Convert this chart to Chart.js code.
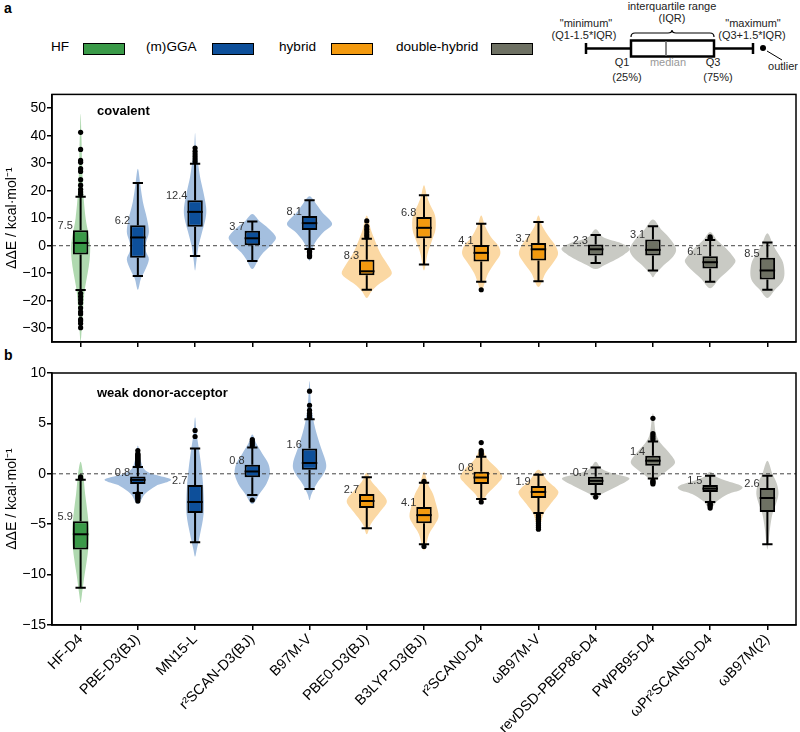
<!DOCTYPE html>
<html>
<head>
<meta charset="utf-8">
<script src="https://cdn.jsdelivr.net/npm/chart.js@4.4.1/dist/chart.umd.min.js"></script>
<style>
  body { margin: 0; width: 800px; height: 732px; position: relative; background: #fff; font-family: 'Liberation Sans', Arial, sans-serif; color: #000; overflow: hidden; }
  .plab { position: absolute; font-weight: bold; font-size: 14px; }
  .lt { position: absolute; font-size: 13.6px; line-height: 15px; top: 39px; }
  .sw { position: absolute; top: 43px; width: 40px; height: 10px; border: 1.5px solid #000; }
  #boxkey { position: absolute; left: 520px; top: 0; }
  .cw { position: absolute; left: 0; width: 800px; }
</style>
</head>
<body>
<div class="plab" style="left:4px;top:0px">a</div>
<div class="plab" style="left:4px;top:347px">b</div>

<div class="lt" style="left:51px">HF</div>
<div class="sw" style="left:83px;background:#3a9a48"></div>
<div class="lt" style="left:146px">(m)GGA</div>
<div class="sw" style="left:212px;background:#0d4f9a"></div>
<div class="lt" style="left:279px">hybrid</div>
<div class="sw" style="left:331px;background:#f39a0f"></div>
<div class="lt" style="left:396px">double-hybrid</div>
<div class="sw" style="left:491px;background:#6e7163"></div>

<svg id="boxkey" width="280" height="88" font-family="Liberation Sans, Arial, sans-serif" font-size="11" fill="#222">
  <text x="152" y="10" text-anchor="middle">interquartile range</text>
  <text x="152" y="22" text-anchor="middle">(IQR)</text>
  <text x="66" y="27" text-anchor="middle">"minimum"</text>
  <text x="64" y="39" text-anchor="middle">(Q1-1.5*IQR)</text>
  <text x="233" y="27" text-anchor="middle">"maximum"</text>
  <text x="232" y="39" text-anchor="middle">(Q3+1.5*IQR)</text>
  <path d="M111 37 Q111 33 115 33 L148 33 Q152 33 152 30 Q152 33 156 33 L190 33 Q194 33 194 37" fill="none" stroke="#000" stroke-width="1.2"/>
  <line x1="66" y1="48.5" x2="111" y2="48.5" stroke="#000" stroke-width="2.5"/>
  <line x1="194" y1="48.5" x2="233" y2="48.5" stroke="#000" stroke-width="2.5"/>
  <line x1="66" y1="43" x2="66" y2="54" stroke="#000" stroke-width="2.5"/>
  <line x1="233" y1="43" x2="233" y2="54" stroke="#000" stroke-width="2.5"/>
  <rect x="111" y="40.5" width="83" height="16" fill="#fff" stroke="#000" stroke-width="2.5"/>
  <line x1="146" y1="41.5" x2="146" y2="55.5" stroke="#888" stroke-width="2"/>
  <circle cx="243" cy="48" r="3" fill="#000"/>
  <line x1="247" y1="51" x2="262" y2="60" stroke="#000" stroke-width="1"/>
  <text x="102" y="66" text-anchor="middle">Q1</text>
  <text x="107" y="81" text-anchor="middle">(25%)</text>
  <text x="148" y="66" text-anchor="middle" fill="#999">median</text>
  <text x="193" y="66" text-anchor="middle">Q3</text>
  <text x="198" y="81" text-anchor="middle">(75%)</text>
  <text x="278" y="70" text-anchor="end">outlier</text>
</svg>

<div class="cw" style="top:85px;height:270px"><canvas id="chartA"></canvas></div>
<div class="cw" style="top:360px;height:372px"><canvas id="chartB"></canvas></div>

<script>
// ---- categories ----
const methods = ['HF-D4','PBE-D3(BJ)','MN15-L','r²SCAN-D3(BJ)','B97M-V','PBE0-D3(BJ)','B3LYP-D3(BJ)','r²SCAN0-D4','ωB97M-V','revDSD-PBEP86-D4','PWPB95-D4','ωPr²SCAN50-D4','ωB97M(2)'];
const groups  = ['HF','GGA','GGA','GGA','GGA','hyb','hyb','hyb','hyb','DH','DH','DH','DH'];
const darkCol  = { HF: '#3a9a48', GGA: '#0d4f9a', hyb: '#f39a0f', DH: '#6e7163' };
const lightCol = { HF: '#b0d9b0', GGA: '#a4bfdf', hyb: '#fbd8a3', DH: '#c9cac4' };

// ---- panel a: covalent ----
const yTicksA = [-30,-20,-10,0,10,20,30,40,50];
const loA  = [-16.1,-11.0,-3.7,-5.6,-1.2,-16.0,-6.8,-13.1,-12.9,-6.3,-9.0,-13.1,-16.0];
const q1A  = [-3.2,-4.4,6.9,0.2,5.7,-10.7,2.7,-5.7,-5.4,-3.6,-3.6,-8.3,-12.3];
const medA = [1.0,3.0,12.3,2.7,8.2,-9.3,6.5,-2.6,-1.3,-1.3,-1.5,-6.0,-9.0];
const q3A  = [5.6,7.4,16.5,5.4,10.8,-5.1,10.4,0.3,1.0,0.4,2.3,-3.8,-4.4];
const hiA  = [17.8,22.8,29.8,8.8,16.5,2.5,18.3,8.0,8.6,3.9,7.1,2.1,1.2];
const madA = [7.5,6.2,12.4,3.7,8.1,8.3,6.8,4.1,3.7,2.3,3.1,6.1,8.5];
const outA = [
  [18.7,19.5,20.5,22,24,27,28,30.3,31,35,41.2,-17.3,-18.5,-19.6,-20.8,-22.6,-24,-24.8,-26.8,-27.4,-28.3,-29.8],
  [], [30.6,31.5,32.4,33.3,34.3,35.5], [], [-2,-2.5,-3,-3.5,-4],
  [3.2,4,5,6,7,9], [], [-16], [], [], [], [2.6,3.2], []
];
// violin density: [value, half width in 1/57 of a category]
const violinA = [
  [[48,0],[40,0.8],[30,1.5],[20,2.5],[10,5],[4,8],[0,9.5],[-5,9],[-10,7],[-15,4.5],[-20,3],[-28,1.5],[-35,0]],
  [[28,0],[22,2.5],[16,5],[10,9],[5,11],[1,8],[-2,8],[-5,11],[-9,7],[-12,3],[-16,0]],
  [[41,0],[35,1],[30,3],[25,5],[20,8],[14,11],[10,10.5],[5,7],[0,3.5],[-5,1.5],[-9,0]],
  [[11.5,0],[9,7],[7,14],[4.5,21],[2.5,23.5],[0,18],[-2.5,11],[-5,6],[-8.5,0]],
  [[18,0],[15,7],[12,13],[8,22.5],[5,14],[2,7],[-1,3],[-5.5,0]],
  [[11,0],[6,4],[2,8],[-3,14],[-7,21],[-10,25],[-12,20],[-14,12],[-16.5,5],[-19,0]],
  [[22,0],[18,3],[15,6],[11,11],[6,11.5],[2,8],[-3,3.5],[-9,0]],
  [[11,0],[7,4],[3,10],[0,17],[-3,19],[-6,14],[-10,7],[-14,3],[-17,0]],
  [[11,0],[7,4],[3,11],[0,17],[-3,19.5],[-6,15],[-10,7],[-15,0]],
  [[6,0],[3,8],[1,25],[-1,34],[-3,29],[-5,20],[-7,9],[-8.5,0]],
  [[9.5,0],[6,8],[3,16],[-1,23],[-4,20],[-7,11],[-10,3],[-11.5,0]],
  [[5,0],[2,7],[-1,16],[-4,23],[-6,25],[-9,18],[-12,9],[-15.5,0]],
  [[4.5,0],[0,6],[-3,11],[-6,15.5],[-10,17],[-13,15],[-16,7.5],[-19,0]]
];

// ---- panel b: weak donor-acceptor ----
const yTicksB = [-15,-10,-5,0,5,10];
const loB  = [-11.3,-1.9,-6.8,-2.1,-1.5,-5.4,-7.0,-2.5,-3.9,-2.0,-0.47,-2.8,-7.0];
const q1B  = [-7.5,-1.0,-3.9,-0.33,0.4,-3.4,-4.9,-1.0,-2.4,-1.1,0.8,-1.8,-3.8];
const medB = [-6.0,-0.6,-2.8,0.23,1.07,-2.7,-4.1,-0.37,-1.8,-0.7,1.3,-1.47,-2.4];
const q3B  = [-4.7,-0.27,-1.1,0.9,2.5,-2.0,-3.3,0.2,-1.2,-0.3,1.8,-1.1,-1.4];
const hiB  = [-0.6,0.67,2.5,2.6,5.4,-0.33,-0.9,1.7,-0.1,0.63,3.2,-0.2,-0.2];
const madB = [5.9,0.8,2.7,0.8,1.6,2.7,4.1,0.8,1.9,0.7,1.4,1.5,2.6];
const outB = [
  [-0.3,-0.45],
  [0.8,0.9,1.0,1.1,1.2,1.3,1.4,1.5,1.6,1.7,1.8,1.9,2.0,2.3,-2.0,-2.1,-2.2,-2.3,-2.4,-2.5,-2.7],
  [3.7,4.3], [2.8,3.0,3.2,3.4,-2.6], [5.6,5.8,6.0,6.3,6.8,8.2], [],
  [-0.75,-7.2], [1.9,2.1,2.3,3.1,-2.8], [-4.1,-4.3,-4.5,-4.7,-4.9,-5.1,-5.3,-5.5], [-2.3],
  [3.4,3.6,3.8,4.0,5.5,-0.7,-0.8,-0.9,-1.0], [-2.9,-3.0,-3.1,-3.2,-3.4], []
];
const violinB = [
  [[1.2,0],[0,2.5],[-2,4.5],[-4,7],[-6,8.5],[-8,7],[-10,4],[-12,1.3],[-12.8,0]],
  [[2.8,0],[1.5,2.5],[0.5,6],[0,14],[-0.5,32],[-0.8,30],[-1.2,18],[-2,7],[-3,0]],
  [[5.6,0],[4,1.5],[2,4.5],[0,7],[-2,8.5],[-4,8.5],[-6,5],[-7.5,1.7],[-8.2,0]],
  [[3.9,0],[3,4],[2,10],[1,16],[0,17.5],[-1,14],[-2,7],[-3,0]],
  [[9.2,0],[7,1.5],[5,4.5],[3,10],[1,16.5],[0,14],[-1,7],[-2,2],[-2.6,0]],
  [[0.1,0],[-0.8,5],[-1.6,12],[-2.7,20],[-3.8,13],[-5,4],[-6,0]],
  [[0.2,0],[-1,4],[-2,9],[-3,12],[-4.2,14.5],[-5,11],[-6,5],[-7.6,0]],
  [[2.6,0],[1.5,6],[0.5,16],[-0.3,21],[-1,16],[-2,6],[-2.9,0]],
  [[0.4,0],[-0.7,9],[-1.5,18],[-2,19.5],[-3,12],[-4,5],[-5.5,0]],
  [[1.2,0],[0.5,6],[0,18],[-0.4,33],[-0.8,30],[-1.2,22],[-1.6,14],[-2,6],[-2.6,0]],
  [[6,0],[4,3],[3,8],[2,17],[1.1,22],[0.3,14],[-0.5,4],[-1.2,0]],
  [[0.2,0],[-0.3,6],[-0.7,16],[-1.2,31],[-1.6,30],[-2,18],[-2.7,7],[-3.5,0]],
  [[1.3,0],[0,5],[-1,9.5],[-2,11],[-3,8.5],[-4,5],[-5.5,2.5],[-7.5,0]]
];

Chart.defaults.font.family = "'Liberation Sans', Arial, sans-serif";
Chart.defaults.color = '#000';

// closed smooth curve through points (catmull-rom)
function smoothPath(ctx, pts) {
  const n = pts.length;
  ctx.moveTo(pts[0][0], pts[0][1]);
  for (let i = 0; i < n; i++) {
    const p0 = pts[(i - 1 + n) % n], p1 = pts[i], p2 = pts[(i + 1) % n], p3 = pts[(i + 2) % n];
    ctx.bezierCurveTo(p1[0] + (p2[0] - p0[0]) / 6, p1[1] + (p2[1] - p0[1]) / 6,
                      p2[0] - (p3[0] - p1[0]) / 6, p2[1] - (p3[1] - p1[1]) / 6, p2[0], p2[1]);
  }
  ctx.closePath();
}

function violinPlugin(p) {
  return {
    id: 'violinBox',
    beforeDatasetsDraw(chart) {
      const { ctx, chartArea: a, scales: { x, y } } = chart;
      const cat = x.getPixelForValue(1) - x.getPixelForValue(0);
      ctx.save();
      ctx.beginPath(); ctx.rect(a.left, a.top, a.width, a.height); ctx.clip();
      // violins
      p.violin.forEach((dens, i) => {
        const cx = x.getPixelForValue(i);
        const right = dens.map(d => [cx + d[1] / 57 * cat, y.getPixelForValue(d[0])]);
        const left = dens.slice(1, -1).reverse().map(d => [cx - d[1] / 57 * cat, y.getPixelForValue(d[0])]);
        ctx.beginPath();
        smoothPath(ctx, right.concat(left));
        ctx.fillStyle = lightCol[groups[i]];
        ctx.fill();
      });
      // zero line
      const y0 = y.getPixelForValue(0);
      ctx.beginPath();
      ctx.setLineDash([4, 3]);
      ctx.strokeStyle = '#444'; ctx.lineWidth = 1;
      ctx.moveTo(a.left, y0); ctx.lineTo(a.right, y0); ctx.stroke();
      ctx.setLineDash([]);
      // whiskers
      ctx.strokeStyle = '#000'; ctx.lineWidth = 2;
      const cap = 0.09 * cat;
      methods.forEach((m, i) => {
        const cx = x.getPixelForValue(i);
        const yl = y.getPixelForValue(p.lo[i]), yh = y.getPixelForValue(p.hi[i]);
        ctx.beginPath();
        ctx.moveTo(cx, yl); ctx.lineTo(cx, y.getPixelForValue(p.q1[i]));
        ctx.moveTo(cx, yh); ctx.lineTo(cx, y.getPixelForValue(p.q3[i]));
        ctx.moveTo(cx - cap, yl); ctx.lineTo(cx + cap, yl);
        ctx.moveTo(cx - cap, yh); ctx.lineTo(cx + cap, yh);
        ctx.stroke();
      });
      ctx.restore();
    },
    afterDatasetsDraw(chart) {
      const { ctx, chartArea: a, scales: { x, y } } = chart;
      const bars = chart.getDatasetMeta(0).data;
      ctx.save();
      ctx.strokeStyle = '#000'; ctx.lineWidth = 2;
      ctx.font = "11px 'Liberation Sans', Arial, sans-serif";
      ctx.fillStyle = '#333';
      ctx.textAlign = 'right'; ctx.textBaseline = 'alphabetic';
      bars.forEach((b, i) => {
        const hw = b.width / 2;
        const ym = y.getPixelForValue(p.med[i]);
        ctx.beginPath(); ctx.moveTo(b.x - hw, ym); ctx.lineTo(b.x + hw, ym); ctx.stroke();
        ctx.fillText(p.mad[i].toFixed(1), b.x - hw, y.getPixelForValue(p.q3[i]) - 1);
      });
      // panel title
      ctx.font = "bold 13px 'Liberation Sans', Arial, sans-serif";
      ctx.fillStyle = '#000'; ctx.textAlign = 'left'; ctx.textBaseline = 'middle';
      ctx.fillText(p.title, a.left + 45, a.top + p.titleDy);
      // frame
      ctx.lineWidth = 1.5;
      ctx.strokeRect(a.left, a.top, a.width, a.height);
      ctx.restore();
    }
  };
}

function makeChart(id, p) {
  const boxes = methods.map((_, i) => [p.q1[i], p.q3[i]]);
  const outliers = [];
  p.out.forEach((vals, i) => vals.forEach(v => outliers.push({ x: methods[i], y: v })));
  return new Chart(document.getElementById(id), {
    type: 'bar',
    data: {
      labels: methods,
      datasets: [
        { type: 'bar', data: boxes, backgroundColor: groups.map(g => darkCol[g]), borderColor: '#000', borderWidth: 2,
          borderSkipped: false, barPercentage: 0.27, categoryPercentage: 1, order: 2 },
        { type: 'scatter', data: outliers, pointRadius: 2.6, pointBackgroundColor: '#000', pointBorderWidth: 0, order: 1 }
      ]
    },
    options: {
      responsive: true, maintainAspectRatio: false, animation: false,
      layout: { padding: { top: p.padTop, right: 3, left: 0, bottom: 0 } },
      plugins: { legend: { display: false }, tooltip: { enabled: false } },
      scales: {
        x: {
          type: 'category', offset: true,
          grid: { display: true, drawOnChartArea: false, drawTicks: true, tickLength: 5, offset: false, color: '#000', lineWidth: 1.5 },
          border: { display: true, color: '#000', width: 1.5 },
          ticks: { display: p.showLabels, autoSkip: false, minRotation: 45, maxRotation: 45, padding: 1, font: { size: 14.4 }, color: '#000' },
          afterFit: s => { s.height = p.xHeight; }
        },
        y: {
          min: p.min, max: p.max,
          afterBuildTicks: s => { s.ticks = p.yTicks.map(v => ({ value: v })); },
          grid: { drawOnChartArea: false, tickLength: 5, color: '#000', lineWidth: 1.5 },
          border: { color: '#000', width: 1.5 },
          ticks: { font: { size: 14 }, color: '#000', padding: 1, callback: v => String(v).replace('-', '−') },
          title: { display: true, text: 'ΔΔE / kcal·mol⁻¹', font: { size: 14 }, color: '#000', padding: { top: 4, bottom: 0 } },
          afterFit: s => { s.width = 52; }
        }
      }
    },
    plugins: [violinPlugin(p)]
  });
}

makeChart('chartA', { lo: loA, q1: q1A, med: medA, q3: q3A, hi: hiA, mad: madA, out: outA, violin: violinA,
  yTicks: yTicksA, min: -35, max: 55, title: 'covalent', titleDy: 17, padTop: 6, xHeight: 13, showLabels: false });
makeChart('chartB', { lo: loB, q1: q1B, med: medB, q3: q3B, hi: hiB, mad: madB, out: outB, violin: violinB,
  yTicks: yTicksB, min: -15, max: 10, title: 'weak donor-acceptor', titleDy: 20, padTop: 13, xHeight: 107, showLabels: true });
</script>
</body>
</html>
